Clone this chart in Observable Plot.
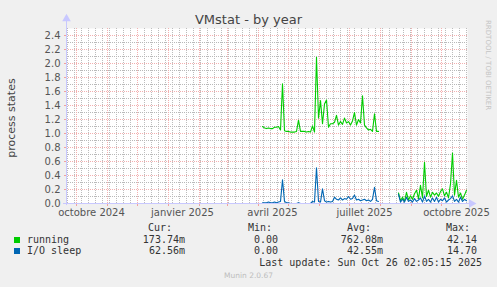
<!DOCTYPE html>
<html><head><meta charset="utf-8">
<script src="https://cdn.jsdelivr.net/npm/d3@7"></script>
<script src="https://cdn.jsdelivr.net/npm/@observablehq/plot@0.6"></script>
<style>
body{margin:0;background:#f0f0f0;width:497px;height:287px;overflow:hidden;position:relative;font-family:"DejaVu Sans",sans-serif;}
.t{position:absolute;white-space:pre;line-height:12px;}
.m{font-family:"DejaVu Sans Mono",monospace;font-size:10px;color:#333;}
</style></head><body>
<div id="chart" style="position:absolute;left:0;top:0"></div>
<div id="legend"></div>
<script>
// ---- data ----
const seriesNames = ["running", "I/O sleep"];
const seriesColors = ["#00cc00", "#0066b3"];
const stepDays = 2;
const seg1Start = "2025-04-05";
const running1 = [1.10,1.08,1.07,1.08,1.07,1.07,1.09,1.09,1.10,1.05,1.71,1.04,1.03,1.03,1.02,1.02,1.02,1.03,1.19,1.03,1.03,1.03,1.02,1.03,1.02,1.11,1.02,2.09,1.22,1.47,1.14,1.42,1.48,1.09,1.14,1.14,1.16,1.26,1.12,1.17,1.13,1.22,1.15,1.17,1.12,1.18,1.30,1.12,1.20,1.15,1.54,1.12,1.08,1.05,1.06,1.03,1.28,1.03,1.03];
const ioSleep1 = [0.01,0.01,0.01,0.02,0.01,0.01,0.02,0.01,0.02,0.03,0.34,0.03,0.01,0.01,0,0,0,0,0.01,0,0,0,0,0,0,0.03,0.02,0.51,0.03,0.02,0.21,0.04,0.02,0.03,0.02,0.03,0.09,0.06,0.05,0.08,0.05,0.07,0.06,0.10,0.06,0.07,0.12,0.05,0.06,0.04,0.05,0.06,0.04,0.05,0.03,0.06,0.23,0.04,0.03];
const seg2Start = "2025-08-19";
const running2 = [0.15,0.04,0.09,0.03,0.16,0.05,0.11,0.06,0.14,0.19,0.07,0.26,0.08,0.59,0.10,0.19,0.09,0.16,0.12,0.15,0.10,0.17,0.21,0.11,0.16,0.08,0.28,0.72,0.12,0.33,0.09,0.15,0.06,0.12,0.19];
const ioSleep2 = [0.13,0.02,0.06,0.02,0.09,0.03,0.05,0.02,0.07,0.03,0.05,0.08,0.02,0.11,0.03,0.06,0.02,0.08,0.03,0.09,0.02,0.06,0.04,0.08,0.02,0.05,0.07,0.11,0.03,0.06,0.02,0.09,0.03,0.06,0.04];

const xStart = "2024-09-21", xEnd = "2025-10-27";
const yTicks = [0,0.2,0.4,0.6,0.8,1.0,1.2,1.4,1.6,1.8,2.0,2.2,2.4];
const yMinor = [0.1,0.3,0.5,0.7,0.9,1.1,1.3,1.5,1.7,1.9,2.1,2.3];
const xLabelDates = ["2024-10-16","2025-01-15","2025-04-15","2025-07-16","2025-10-16"];
const xLabels = ["octobre 2024","janvier 2025","avril 2025","juillet 2025","octobre 2025"];

const legendCur = ["173.74m","62.56m"];
const legendMin = ["0.00","0.00"];
const legendAvg = ["762.08m","42.55m"];
const legendMax = ["42.14","14.70"];

// ---- build ----
const parse = d3.utcParse("%Y-%m-%d");
function build(start, vals, name, seg) {
  const s = parse(start);
  return vals.map((v, i) => ({date: d3.utcDay.offset(s, i * stepDays), value: v, name, seg}));
}
const data = [
  ...build(seg1Start, running1, seriesNames[0], "r1"),
  ...build(seg2Start, running2, seriesNames[0], "r2"),
  ...build(seg1Start, ioSleep1, seriesNames[1], "i1"),
  ...build(seg2Start, ioSleep2, seriesNames[1], "i2")
];
const x0 = parse(xStart), x1 = parse(xEnd);
const monthStarts = d3.utcMonth.range(d3.utcMonth.ceil(x0), x1);
const weeks = d3.utcWeek.range(x0, x1).filter(d => d.getUTCDate() !== 1);
const xArrowEnd = d3.utcDay.offset(x1, 4);
const grid = {strokeDasharray: "1,1", shapeRendering: "crispEdges"};

const chart = Plot.plot({
  width: 497, height: 222,
  marginLeft: 66, marginRight: 30, marginTop: 28, marginBottom: 19,
  style: {background: "transparent", fontFamily: "DejaVu Sans", fontSize: "10px", color: "#555"},
  x: {type: "utc", domain: [x0, x1]},
  y: {domain: [0, 2.5]},
  color: {domain: seriesNames, range: seriesColors},
  marks: [
    Plot.frame({fill: "white", stroke: null}),
    Plot.ruleY(yMinor, {stroke: "#b8b8b8", ...grid}),
    Plot.ruleX(weeks, {stroke: "#bcbcbc", ...grid}),
    Plot.ruleY(yTicks.slice(1), {stroke: "#f2b0b0", ...grid}),
    Plot.ruleX(monthStarts, {stroke: "#f2b0b0", ...grid}),
    Plot.line(data, {x: "date", y: "value", z: "seg", stroke: "name", strokeWidth: 1.1}),
    Plot.axisY({ticks: yTicks, tickFormat: d3.format(".1f"), label: null, tickSize: 2, tickPadding: 4, stroke: "#f2a0a0", fill: "#555", fontSize: 10}),
    Plot.axisX({ticks: monthStarts, tickFormat: () => "", label: null, tickSize: 3, stroke: "#f2a0a0", tickPadding: 0}),
    Plot.axisX({ticks: xLabelDates.map(parse), tickFormat: (d, i) => xLabels[i], label: null, tickSize: 0, tickPadding: 5, fill: "#555", fontSize: 10}),
    Plot.ruleY([0], {x1: d3.utcDay.offset(x0, -3), x2: xArrowEnd, stroke: "#c8c8ff", clip: false}),
    Plot.ruleX([x0], {y1: -0.03, y2: 2.62, stroke: "#c8c8ff", clip: false}),
    Plot.dot([0], {x: xArrowEnd, y: 0, symbol: "triangle", r: 3.2, rotate: 90, fill: "#c8c8ff", stroke: null, clip: false}),
    Plot.dot([0], {x: x0, y: 2.64, symbol: "triangle", r: 3.2, fill: "#c8c8ff", stroke: null, clip: false})
  ]
});
document.getElementById("chart").appendChild(chart);

// ---- texts ----
const L = document.getElementById("legend");
function t(text, css, cls) {
  const d = document.createElement("div");
  d.className = "t " + (cls || "");
  d.textContent = text;
  d.setAttribute("style", css);
  L.appendChild(d);
  return d;
}
t("VMstat - by year", "left:0;width:497px;text-align:center;top:12px;font-size:13px;color:#444;line-height:16px;");
t("process states", "left:-34px;top:112px;width:92px;text-align:center;transform:rotate(-90deg);font-size:11px;color:#444;");
t("RRDTOOL / TOBI OETIKER", "left:484px;top:20px;writing-mode:vertical-rl;font-size:7px;color:#c4c4c4;line-height:8px;");
const heads = ["Cur:","Min:","Avg:","Max:"], headEnds = [172,272,371,470];
heads.forEach((h, i) => t(h, `right:${497 - headEnds[i]}px;top:222px;`, "m"));
const colEnds = [185, 278, 383, 477];
const cols = [legendCur, legendMin, legendAvg, legendMax];
seriesNames.forEach((n, k) => {
  const yc = [240, 251][k];
  const sq = document.createElement("div");
  sq.setAttribute("style", `position:absolute;left:14px;top:${yc-3}px;width:6px;height:6px;background:${seriesColors[k]};`);
  L.appendChild(sq);
  t(n, `left:27px;top:${yc - 6}px;`, "m");
  cols.forEach((c, i) => t(c[k], `right:${497 - colEnds[i]}px;top:${yc - 6}px;`, "m"));
});
t("Last update: Sun Oct 26 02:05:15 2025", "right:15px;top:257px;", "m");
t("Munin 2.0.67", "left:0;width:497px;text-align:center;top:270px;font-size:7.5px;color:#bdbdbd;");
</script>
</body></html>
